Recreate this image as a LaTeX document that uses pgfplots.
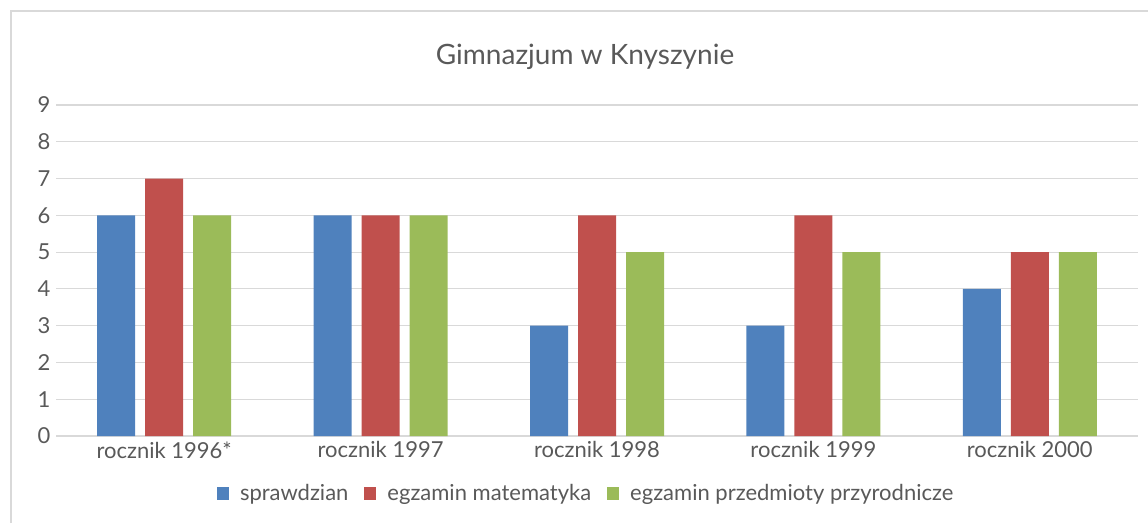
\documentclass[border=0pt]{standalone}
\usepackage{fontspec}
\setmainfont{Lato}
\usepackage{pgfplots}
\pgfplotsset{compat=1.18}

\definecolor{sblue}{HTML}{4F81BD}
\definecolor{sred}{HTML}{C0504D}
\definecolor{sgreen}{HTML}{9BBB59}
\definecolor{txt}{HTML}{595959}
\definecolor{gridc}{HTML}{D9D9D9}

\begin{document}
\begin{tikzpicture}
\useasboundingbox (0pt,0pt) rectangle (1148pt,523pt);
% chart frame (cut off at right and bottom)
\draw[gridc, line width=1.5pt] (11pt,0pt) -- (11pt,512pt) -- (1148pt,512pt);
\node[text=txt, font=\fontsize{28}{31}\selectfont] at (585pt,466pt) {Gimnazjum w Knyszynie};
\begin{axis}[
    at={(56pt,87pt)}, anchor=south west,
    scale only axis, width=1082pt, height=331pt,
    ybar=10pt, bar width=38pt,
    xmin=-0.5, xmax=4.5, ymin=0, ymax=9,
    xtick=data,
    xticklabels={rocznik 1996*,rocznik 1997,rocznik 1998,rocznik 1999,rocznik 2000},
    ytick={0,1,...,9},
    axis x line*=bottom, axis y line*=left,
    x axis line style={gridc, line width=1.5pt, -},
    y axis line style={draw=none},
    major tick length=0pt,
    ymajorgrids, grid style={gridc, line width=1.2pt},
    tick label style={text=txt, font=\fontsize{22}{25}\selectfont},
    /pgf/number format/assume math mode=true,
    xticklabel style={yshift=-2pt},
    yticklabel style={xshift=-2pt},
    legend columns=3,
    legend style={at={(0.49,-0.174)}, anchor=center, draw=none, fill=none,
        font=\fontsize{22}{24}\selectfont, text=txt,
        /tikz/every odd column/.append style={column sep=9pt},
        /tikz/every even column/.append style={column sep=14pt}},
    legend image code/.code={\fill[#1] (0pt,-6.5pt) rectangle (12pt,6.5pt);},
]
\addplot[fill=sblue, draw=none] coordinates {(0,6) (1,6) (2,3) (3,3) (4,4)};
\addplot[fill=sred, draw=none] coordinates {(0,7) (1,6) (2,6) (3,6) (4,5)};
\addplot[fill=sgreen, draw=none] coordinates {(0,6) (1,6) (2,5) (3,5) (4,5)};
\legend{sprawdzian, egzamin matematyka, egzamin przedmioty przyrodnicze}
\end{axis}
\end{tikzpicture}
\end{document}
